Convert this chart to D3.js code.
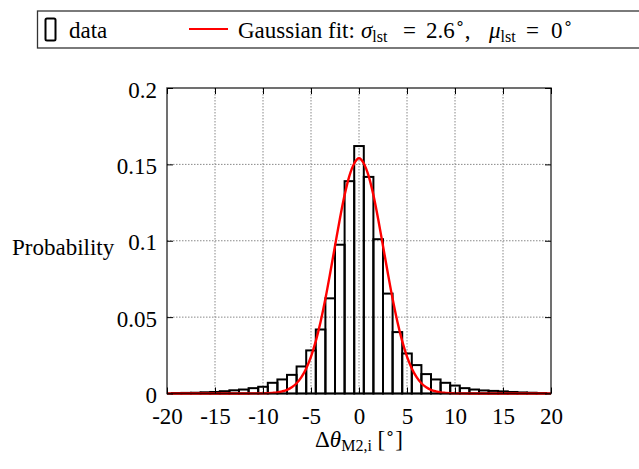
<!DOCTYPE html>
<html>
<head>
<meta charset="utf-8">
<script src="https://cdn.jsdelivr.net/npm/d3@7"></script>
<style>
  body { margin: 0; background: #fff; }
  text { font-family: "Liberation Serif", "Times New Roman", serif; fill: #000; }
</style>
</head>
<body>
<div id="chart"></div>
<script>
// Histogram bins (centre of each 1 degree bin) and their probabilities
var binCenters = [-19, -18, -17, -16, -15, -14, -13, -12, -11, -10, -9, -8, -7, -6, -5, -4, -3, -2, -1,
  0, 1, 2, 3, 4, 5, 6, 7, 8, 9, 10, 11, 12, 13, 14, 15, 16, 17, 18, 19];
var binValues = [0.0003, 0.0004, 0.0005, 0.0008, 0.0010, 0.0015, 0.0021, 0.0026, 0.0035, 0.0044,
  0.0070, 0.0092, 0.0122, 0.0177, 0.0282, 0.0419, 0.0623, 0.0974, 0.1390,
  0.1620,
  0.1418, 0.1010, 0.0654, 0.0402, 0.0262, 0.0186, 0.0127, 0.0092, 0.0070, 0.0052,
  0.0035, 0.0026, 0.0020, 0.0017, 0.0014, 0.0010, 0.0007, 0.0005, 0.0003];

// Gaussian fit curve
var fitX = [-20, -12, -10, -9, -8.5, -8, -7.5, -7, -6.5, -6, -5.5, -5, -4.5, -4, -3.5, -3, -2.5, -2, -1.5, -1, -0.5,
  0, 0.5, 1, 1.5, 2, 2.5, 3, 3.5, 4, 4.5, 5, 5.5, 6, 6.5, 7, 7.5, 8, 8.5, 9, 10, 12, 20];
var fitY = [0, 0, 0.0001, 0.0004, 0.0007, 0.0014, 0.0024, 0.0041, 0.0067, 0.0107, 0.0164, 0.0242, 0.0343, 0.0470,
  0.0620, 0.0789, 0.0966, 0.1141, 0.1299, 0.1425, 0.1506,
  0.1540, 0.1506, 0.1425, 0.1299, 0.1141, 0.0966, 0.0789, 0.0620, 0.0470, 0.0343, 0.0242, 0.0164, 0.0107,
  0.0067, 0.0041, 0.0024, 0.0014, 0.0007, 0.0004, 0.0001, 0, 0];

var xTicks = [-20, -15, -10, -5, 0, 5, 10, 15, 20];
var yTicks = [0, 0.05, 0.1, 0.15, 0.2];

var svgWidth = 639;
var svgHeight = 469;

var margin = { top: 88, right: 88, bottom: 75.5, left: 167 };
var chartWidth = svgWidth - margin.left - margin.right;
var chartHeight = svgHeight - margin.top - margin.bottom;

var svg = d3.select("#chart")
  .append("svg")
  .attr("width", svgWidth)
  .attr("height", svgHeight);

var chartGroup = svg.append("g")
  .attr("transform", `translate(${margin.left}, ${margin.top})`);

var xScale = d3.scaleLinear().domain([-20, 20]).range([0, chartWidth]);
var yScale = d3.scaleLinear().domain([0, 0.2]).range([chartHeight, 0]);

// dotted grid
var gridGroup = chartGroup.append("g")
  .attr("stroke", "#888")
  .attr("stroke-width", 1)
  .attr("stroke-dasharray", "1.5,1.5");

gridGroup.selectAll(".vgrid")
  .data(xTicks.slice(1, -1))
  .enter()
  .append("line")
  .attr("x1", d => xScale(d))
  .attr("x2", d => xScale(d))
  .attr("y1", 0)
  .attr("y2", chartHeight);

gridGroup.selectAll(".hgrid")
  .data(yTicks.slice(1, -1))
  .enter()
  .append("line")
  .attr("x1", 0)
  .attr("x2", chartWidth)
  .attr("y1", d => yScale(d))
  .attr("y2", d => yScale(d));

// histogram boxes
chartGroup.selectAll("rect.bin")
  .data(binCenters)
  .enter()
  .append("rect")
  .attr("class", "bin")
  .attr("x", d => xScale(d - 0.5))
  .attr("width", xScale(1) - xScale(0))
  .attr("y", (d, i) => yScale(binValues[i]))
  .attr("height", (d, i) => chartHeight - yScale(binValues[i]))
  .attr("fill", "none")
  .attr("stroke", "#000")
  .attr("stroke-width", 2);

// gaussian fit
var fitLine = d3.line()
  .x(d => xScale(d[0]))
  .y(d => yScale(d[1]))
  .curve(d3.curveMonotoneX);

chartGroup.append("path")
  .datum(fitX.map((x, i) => [x, fitY[i]]))
  .attr("d", fitLine)
  .attr("fill", "none")
  .attr("stroke", "#f00")
  .attr("stroke-width", 2.4);

// axes with inside ticks
var bottomAxis = d3.axisBottom(xScale).tickValues(xTicks).tickSize(-6).tickPadding(14)
  .tickFormat(d => d);
var leftAxis = d3.axisLeft(yScale).tickValues(yTicks).tickSize(-6).tickPadding(10)
  .tickFormat(d => d);
var topAxis = d3.axisTop(xScale).tickValues(xTicks).tickSize(-6).tickFormat("");
var rightAxis = d3.axisRight(yScale).tickValues(yTicks).tickSize(-6).tickFormat("");

[
  chartGroup.append("g").attr("transform", `translate(0, ${chartHeight})`).call(bottomAxis),
  chartGroup.append("g").call(leftAxis),
  chartGroup.append("g").call(topAxis),
  chartGroup.append("g").attr("transform", `translate(${chartWidth}, 0)`).call(rightAxis)
].forEach(function(g) {
  g.select(".domain").remove();
  g.selectAll("line").attr("stroke", "#000");
  g.selectAll("text")
    .attr("font-family", "Liberation Serif")
    .attr("font-size", "23px")
    .attr("fill", "#000");
});
chartGroup.selectAll("g").filter(function() { return d3.select(this).attr("text-anchor") === "end"; })
  .selectAll("text").attr("dy", "0.4em");

// frame
chartGroup.append("rect")
  .attr("x", 0)
  .attr("y", 0)
  .attr("width", chartWidth)
  .attr("height", chartHeight)
  .attr("fill", "none")
  .attr("stroke", "#000")
  .attr("stroke-opacity", 0.75)
  .attr("stroke-width", 1.5);

// axis labels
svg.append("text")
  .attr("x", 12)
  .attr("y", 255)
  .attr("font-size", "23px")
  .text("Probability");

var xLabel = svg.append("text")
  .attr("x", margin.left + chartWidth / 2)
  .attr("y", 447)
  .attr("text-anchor", "middle")
  .attr("font-size", "23px");
xLabel.append("tspan").text("Δ");
xLabel.append("tspan").attr("font-style", "italic").text("θ");
xLabel.append("tspan").attr("font-size", "16px").attr("dy", 4).text("M2,i");
xLabel.append("tspan").attr("dy", -4).text(" [");
xLabel.append("tspan").attr("font-size", "16px").attr("dy", -8).text("∘");
xLabel.append("tspan").attr("dy", 8).text("]");

// legend
var legend = svg.append("g");
legend.append("rect")
  .attr("x", 37.5)
  .attr("y", 11)
  .attr("width", 620)
  .attr("height", 37)
  .attr("fill", "#fff")
  .attr("stroke", "#000")
  .attr("stroke-opacity", 0.8)
  .attr("stroke-width", 1.3);

legend.append("rect")
  .attr("x", 45.5)
  .attr("y", 18.5)
  .attr("width", 10)
  .attr("height", 22)
  .attr("rx", 1.5)
  .attr("fill", "none")
  .attr("stroke", "#000")
  .attr("stroke-width", 2);

legend.append("text")
  .attr("x", 69)
  .attr("y", 38)
  .attr("font-size", "23px")
  .text("data");

legend.append("line")
  .attr("x1", 189)
  .attr("x2", 228)
  .attr("y1", 29)
  .attr("y2", 29)
  .attr("stroke", "#f00")
  .attr("stroke-width", 2);

var fitLabel = legend.append("text")
  .attr("x", 238)
  .attr("y", 38)
  .attr("font-size", "23px");
fitLabel.append("tspan").text("Gaussian fit: ");
fitLabel.append("tspan").attr("x", 361).attr("font-style", "italic").text("σ");
fitLabel.append("tspan").attr("font-size", "16px").attr("dy", 4).text("lst");
fitLabel.append("tspan").attr("x", 403).attr("dy", -4).text("=");
fitLabel.append("tspan").attr("x", 426).text("2.6");
fitLabel.append("tspan").attr("font-size", "16px").attr("dy", -9).text("∘");
fitLabel.append("tspan").attr("dy", 9).text(",");
fitLabel.append("tspan").attr("x", 489).attr("font-style", "italic").text("μ");
fitLabel.append("tspan").attr("font-size", "16px").attr("dy", 4).text("lst");
fitLabel.append("tspan").attr("x", 526).attr("dy", -4).text("=");
fitLabel.append("tspan").attr("x", 551).text("0");
fitLabel.append("tspan").attr("font-size", "16px").attr("dy", -9).text("∘");
</script>
</body>
</html>
